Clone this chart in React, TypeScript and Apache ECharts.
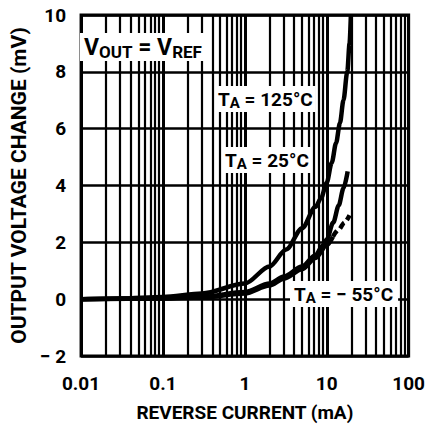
import React, { useEffect, useRef } from "react";
import * as echarts from "echarts";

// ---- data ----
const X_TICKS = [0.01, 0.1, 1, 10, 100];
const X_TICK_LABELS = ["0.01", "0.1", "1", "10", "100"];
const X_MINOR = [
  0.02, 0.03, 0.04, 0.05, 0.06, 0.07, 0.08, 0.09,
  0.2, 0.3, 0.4, 0.5, 0.6, 0.7, 0.8, 0.9,
  2, 3, 4, 5, 6, 7, 8, 9,
  20, 30, 40, 50, 60, 70, 80, 90,
];
const Y_TICKS = [-2, 0, 2, 4, 6, 8, 10];

const I_125 = [0.01, 0.03, 0.1, 0.3, 1, 2, 3.2, 5, 7.3, 8.5, 10, 11.5, 13, 14.5, 16, 17.8, 19, 19.7];
const V_125 = [0, 0.02, 0.08, 0.2, 0.55, 1.15, 1.75, 2.5, 3.25, 3.55, 4.1, 4.8, 5.5, 6.2, 7, 8, 9, 10];

const I_25 = [0.01, 0.1, 0.3, 1, 2, 3, 5, 7.3, 9, 10, 12, 14, 16, 18];
const V_25 = [0, 0.03, 0.08, 0.25, 0.55, 0.8, 1.15, 1.55, 1.9, 2.1, 2.7, 3.3, 3.9, 4.5];

const I_M55 = [0.01, 0.1, 0.3, 1, 2, 3, 5, 7.3, 10, 11.9];
const V_M55 = [0, 0.02, 0.06, 0.2, 0.48, 0.72, 1.05, 1.45, 1.9, 2.2];
const I_M55_DASH = [11.9, 14, 16.5, 19];
const V_M55_DASH = [2.2, 2.45, 2.7, 2.95];

const FONT = "Roboto, 'Liberation Sans', sans-serif";

const pairs = (xs: number[], ys: number[]) => xs.map((x, i) => [x, ys[i]]);

export default function App() {
  const ref = useRef<HTMLDivElement>(null);
  useEffect(() => {
    if (!ref.current) return;
    const chart = echarts.init(ref.current, null, { renderer: "svg" });
    const lineBase = {
      type: "line",
      showSymbol: false,
      symbol: "none",
      smooth: 0.3,
      smoothMonotone: "x",
      silent: true,
      z: 5,
    };
    const rich = {
      b: { fontFamily: FONT, fontWeight: "bold", fontSize: 19, color: "#000", lineHeight: 22 },
      s: { fontFamily: FONT, fontWeight: "bold", fontSize: 15, color: "#000", lineHeight: 22, padding: [8, 0, 0, 0] },
      big: { fontFamily: FONT, fontWeight: "bold", fontSize: 23, color: "#000", lineHeight: 25 },
      bs: { fontFamily: FONT, fontWeight: "bold", fontSize: 17, color: "#000", lineHeight: 25, padding: [8, 0, 0, 0] },
    };
    const label = (x: number, y: number, text: string, pad: number[] = [2, 3, 2, 3]) => ({
      type: "text",
      x,
      y,
      z: 20,
      style: { text, rich, backgroundColor: "#fff", padding: pad },
    });
    chart.setOption({
      animation: false,
      backgroundColor: "#fff",
      grid: {
        left: 78,
        top: 15,
        right: 12,
        bottom: 69,
        show: true,
        borderColor: "#000",
        borderWidth: 3,
        backgroundColor: "#fff",
      },
      xAxis: {
        type: "log",
        logBase: 10,
        min: 0.01,
        max: 100,
        name: "REVERSE CURRENT (mA)",
        nameLocation: "middle",
        nameGap: 47,
        nameTextStyle: { fontFamily: FONT, fontWeight: "bold", fontSize: 19, color: "#000" },
        axisLine: { show: false },
        axisTick: { show: false },
        axisLabel: {
          margin: 18,
          fontFamily: FONT,
          fontWeight: "bold",
          fontSize: 19,
          color: "#000",
          formatter: (v: number) => {
            const i = X_TICKS.findIndex((t) => Math.abs(Math.log10(t) - Math.log10(v)) < 1e-6);
            return i >= 0 ? X_TICK_LABELS[i] : "";
          },
        },
        splitLine: { show: true, lineStyle: { color: "#000", width: 3 } },
      },
      yAxis: {
        type: "value",
        min: -2,
        max: 10,
        interval: 2,
        name: "OUTPUT VOLTAGE CHANGE (mV)",
        nameLocation: "middle",
        nameGap: 50,
        nameTextStyle: { fontFamily: FONT, fontWeight: "bold", fontSize: 21, color: "#000" },
        axisLine: { show: false },
        axisTick: { show: false },
        axisLabel: {
          margin: 15,
          fontFamily: FONT,
          fontWeight: "bold",
          fontSize: 19,
          color: "#000",
          formatter: (v: number) => (Y_TICKS.includes(v) ? (v < 0 ? "\u2212 " + Math.abs(v) : String(v)) : ""),
        },
        splitLine: { show: true, lineStyle: { color: "#000", width: 2.5 } },
      },
      series: [
        {
          type: "line",
          data: [],
          silent: true,
          z: 1,
          markLine: {
            silent: true,
            symbol: "none",
            label: { show: false },
            animation: false,
            lineStyle: { color: "#000", width: 2.2, type: "solid" },
            data: X_MINOR.map((x) => ({ xAxis: x })),
          },
        },
        { ...lineBase, name: "125", data: pairs(I_125, V_125), lineStyle: { color: "#000", width: 4.5 } },
        { ...lineBase, name: "25", data: pairs(I_25, V_25), lineStyle: { color: "#000", width: 4.5 } },
        { ...lineBase, name: "-55", data: pairs(I_M55, V_M55), lineStyle: { color: "#000", width: 4.5 } },
        {
          ...lineBase,
          name: "-55d",
          data: pairs(I_M55_DASH, V_M55_DASH),
          lineStyle: { color: "#000", width: 4.5, type: [7, 4] },
        },
      ],
      graphic: [
        label(80, 33, "{big|V}{bs|OUT}{big| = V}{bs|REF}", [2, 4, 1, 4]),
        label(215, 86, "{b|T}{s|A}{b| = 125°C}"),
        label(222, 147, "{b|T}{s|A}{b| = 25°C}"),
        label(290, 281, "{b|T}{s|A}{b| = \u2212 55°C}", [2, 5, 2, 4]),
      ],
    });
    return () => chart.dispose();
  }, []);
  return <div ref={ref} style={{ position: "fixed", left: 0, top: 0, width: 428, height: 427 }} />;
}
